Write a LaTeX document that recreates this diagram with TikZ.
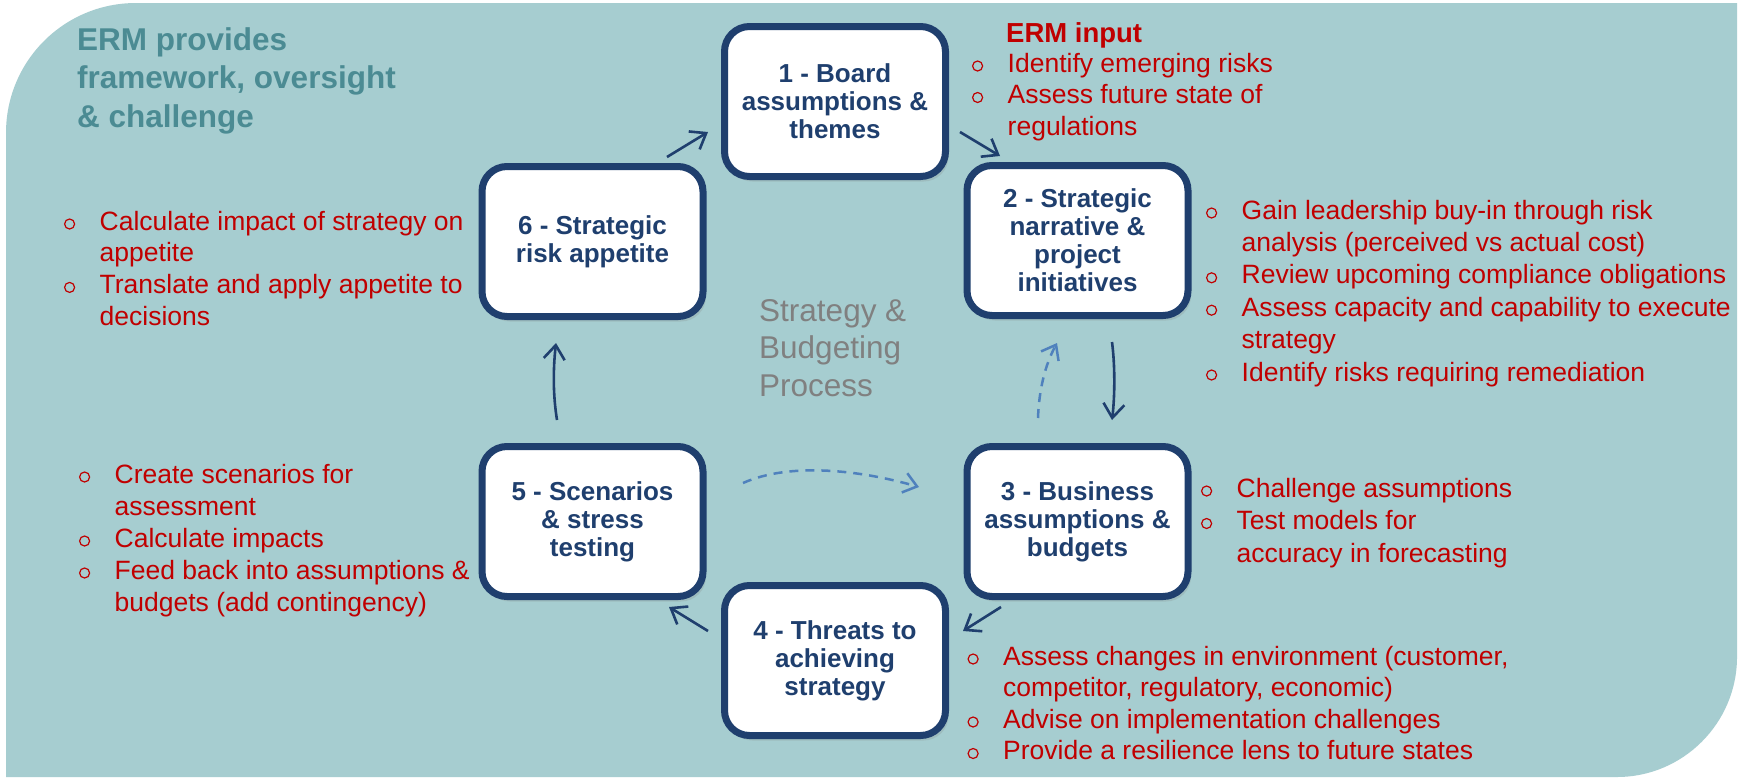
\documentclass[tikz,border=0pt]{standalone}
\usepackage{fontspec}
\setmainfont{Liberation Sans}
\usetikzlibrary{arrows.meta,shadows}

\definecolor{panel}{HTML}{A6CDD0}
\definecolor{navy}{HTML}{1F3F6E}
\definecolor{ermred}{HTML}{C00000}
\definecolor{titleteal}{HTML}{4B8B93}
\definecolor{procgray}{HTML}{808080}
\definecolor{lightflow}{HTML}{4F81BD}

% open round bullet and hanging indent for the red lists
\newcommand\bul{\makebox[38pt][l]{\hspace*{2.3pt}\tikz[x=1pt,y=1pt,baseline=0pt]
  \draw[ermred,line width=1.2pt] (6,6) circle[radius=5];}}
\newcommand\cont{\hspace*{38pt}}

\tikzset{
  stage/.style={draw=navy, line width=7pt, fill=white, rounded corners=25pt,
    minimum width=221pt, minimum height=150pt, inner sep=0pt, align=center,
    text=navy, font=\fontsize{26}{28}\selectfont\bfseries,
    drop shadow={opacity=0.22, shadow xshift=3pt, shadow yshift=-5pt}},
  redlist/.style={anchor=base west, inner sep=0pt, text=ermred},
  flow/.style={draw=navy, line width=2.6pt,
    -{Straight Barb[length=14pt,width=21pt]}},
  dashflow/.style={draw=lightflow, line width=2.5pt, dash pattern=on 9pt off 7pt,
    -{Straight Barb[length=13pt,width=20pt]}}
}

\begin{document}
\begin{tikzpicture}[x=1pt,y=-1pt]
\useasboundingbox (0,0) rectangle (1739,780);
\fill[white] (0,0) rectangle (1739,780);

% panel with two rounded corners
\fill[panel] (6,777) -- (6,133) .. controls (6,61) and (64,3) .. (136,3)
  -- (1737,3) -- (1737,657) .. controls (1737,723) and (1683,777) .. (1617,777) -- cycle;

% heading texts
\node[anchor=base west, inner sep=0pt, text=titleteal,
      font=\fontsize{31.5}{38.5}\selectfont\bfseries] (title) at (77,50)
  {\begin{tabular}[t]{@{}l@{}}ERM provides\\framework, oversight\\\& challenge\end{tabular}};
\node[anchor=base west, inner sep=0pt, text=procgray,
      font=\fontsize{31.5}{37.5}\selectfont] (process) at (759,321)
  {\begin{tabular}[t]{@{}l@{}}Strategy \&\\Budgeting\\Process\end{tabular}};
\node[anchor=base west, inner sep=0pt, text=ermred,
      font=\fontsize{27.5}{30}\selectfont\bfseries] (ermin) at (1006,42) {ERM input};

% the six stages
\node[stage] (b1) at (835,101.5)   {1 - Board\\assumptions \&\\themes};
\node[stage] (b2) at (1077.5,240.5) {2 - Strategic\\narrative \&\\project\\initiatives};
\node[stage] (b3) at (1077.5,521.5) {3 - Business\\assumptions \&\\budgets};
\node[stage] (b4) at (835,660.5)   {4 - Threats to\\achieving\\strategy};
\node[stage] (b5) at (592.5,521.5) {5 - Scenarios\\\& stress\\testing};
\node[stage] (b6) at (592.5,241.5) {6 - Strategic\\risk appetite};

% ERM input lists
\node[redlist, font=\fontsize{26.5}{31.5}\selectfont] (l1) at (969.5,72)
  {\begin{tabular}[t]{@{}l@{}}\bul Identify emerging risks\\\bul Assess future state of\\\cont regulations\end{tabular}};
\node[redlist, font=\fontsize{26.5}{32.4}\selectfont] (l2) at (1203.5,219)
  {\begin{tabular}[t]{@{}l@{}}\bul Gain leadership buy-in through risk\\\cont analysis (perceived vs actual cost)\\\bul Review upcoming compliance obligations\\\bul Assess capacity and capability to execute\\\cont strategy\\\bul Identify risks requiring remediation\end{tabular}};
\node[redlist, font=\fontsize{26.5}{32.5}\selectfont] (l3) at (1198.5,497)
  {\begin{tabular}[t]{@{}l@{}}\bul Challenge assumptions\\\bul Test models for\\\cont accuracy in forecasting\end{tabular}};
\node[redlist, font=\fontsize{26.5}{31.5}\selectfont] (l4) at (965,665)
  {\begin{tabular}[t]{@{}l@{}}\bul Assess changes in environment (customer,\\\cont competitor, regulatory, economic)\\\bul Advise on implementation challenges\\\bul Provide a resilience lens to future states\end{tabular}};
\node[redlist, font=\fontsize{26.5}{32}\selectfont] (l5) at (76.5,483)
  {\begin{tabular}[t]{@{}l@{}}\bul Create scenarios for\\\cont assessment\\\bul Calculate impacts\\\bul Feed back into assumptions \&\\\cont budgets (add contingency)\end{tabular}};
\node[redlist, font=\fontsize{26.5}{31.7}\selectfont] (l6) at (61.5,230)
  {\begin{tabular}[t]{@{}l@{}}\bul Calculate impact of strategy on\\\cont appetite\\\bul Translate and apply appetite to\\\cont decisions\end{tabular}};

% arrow end points in the gaps between stages
\coordinate (a61s) at (667,157);  \coordinate (a61e) at (708,132);
\coordinate (a12s) at (960,132);  \coordinate (a12e) at (1000,156);
\coordinate (a23s) at (1112,342); \coordinate (a23e) at (1112,420);
\coordinate (a34s) at (1001,607); \coordinate (a34e) at (963,631);
\coordinate (a45s) at (708,631);  \coordinate (a45e) at (669,607);
\coordinate (a56s) at (557,420);  \coordinate (a56e) at (556,343);
\coordinate (d53s) at (743,483);  \coordinate (d53e) at (919,487);
\coordinate (d32s) at (1038,418); \coordinate (d32e) at (1057,343);

% main cycle
\draw[flow] (a61s) -- (a61e);
\draw[flow] (a12s) -- (a12e);
\draw[flow] (a23s) .. controls (1115,365) and (1115,395) .. (a23e);
\draw[flow] (a34s) -- (a34e);
\draw[flow] (a45s) -- (a45e);
\draw[flow] (a56s) .. controls (553,395) and (553,370) .. (a56e);

% feedback loops
\draw[dashflow] (d53s) .. controls (790,462) and (860,470) .. (d53e);
\draw[dashflow] (d32s) .. controls (1039,390) and (1045,365) .. (d32e);
\end{tikzpicture}
\end{document}
